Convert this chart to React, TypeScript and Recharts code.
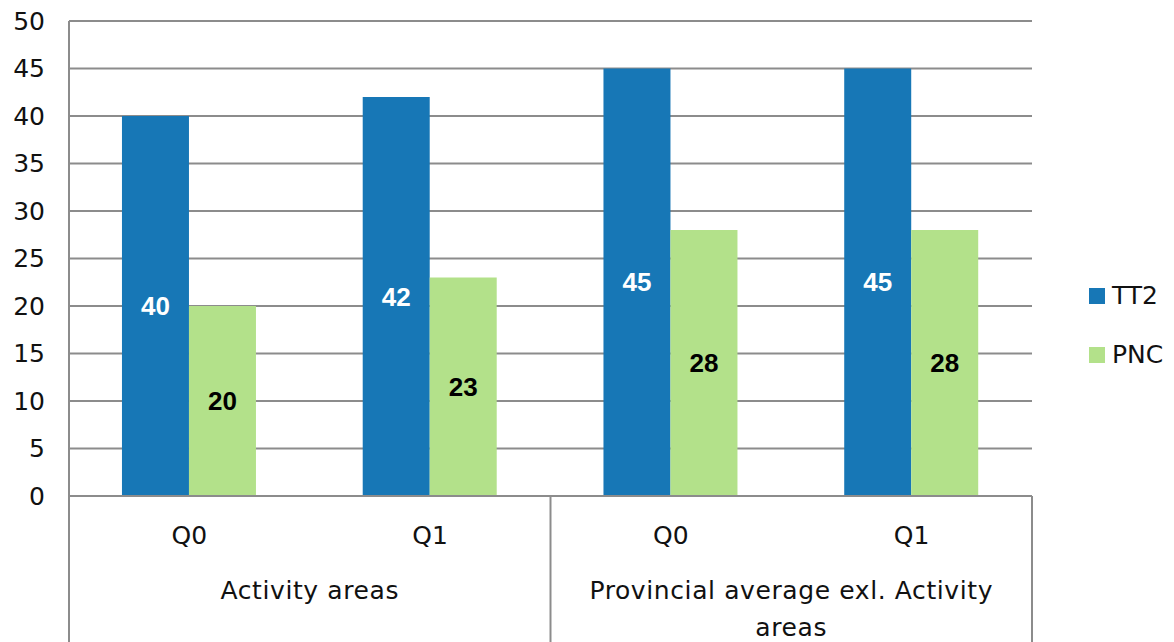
import React from "react";
import { BarChart, Bar, XAxis, YAxis, CartesianGrid, Legend, LabelList } from "recharts";

const categories = ["Q0", "Q1", "Q0", "Q1"];
const groups = [
  "Activity areas",
  "Activity areas",
  "Provincial average exl. Activity areas",
  "Provincial average exl. Activity areas",
];
const seriesNames = ["TT2", "PNC"];
const tt2Values = [40, 42, 45, 45];
const pncValues = [20, 23, 28, 28];
const yTicks = [0, 5, 10, 15, 20, 25, 30, 35, 40, 45, 50];

const data = categories.map((q, i) => ({
  q,
  group: groups[i],
  TT2: tt2Values[i],
  PNC: pncValues[i],
}));

const W = 1174;
const H = 642;
const LEFT = 69;
const RIGHT = 1032;
const BOTTOM = 496;
const GRID = "#8c8c8c";
const FONT = "'DejaVu Sans', sans-serif";

// naive word wrap for the group labels
function wrap(text: string, max: number) {
  const lines: string[] = [];
  let cur = "";
  text.split(" ").forEach((w) => {
    const next = cur ? cur + " " + w : w;
    if (next.length > max && cur) {
      lines.push(cur);
      cur = w;
    } else cur = next;
  });
  if (cur) lines.push(cur);
  return lines;
}

const QTick = (props: any) => {
  const { x, payload } = props;
  return (
    <text x={x} y={BOTTOM + 48} textAnchor="middle" fontSize={25} fontFamily={FONT} fill="#111">
      {payload.value}
    </text>
  );
};

const GroupTick = (props: any) => {
  const { x, payload, index } = props;
  const half = (RIGHT - LEFT) / 4;
  const lines = wrap(payload.value, 32);
  return (
    <g>
      {index === 0 && <line x1={x - half} x2={x - half} y1={BOTTOM} y2={H} stroke={GRID} strokeWidth={2} />}
      <line x1={x + half} x2={x + half} y1={BOTTOM} y2={H} stroke={GRID} strokeWidth={2} />
      <text textAnchor="middle" fontSize={25} fontFamily={FONT} fill="#111" letterSpacing={0.6}>
        {lines.map((l, i) => (
          <tspan key={i} x={x} y={BOTTOM + 103 + i * 37}>
            {l}
          </tspan>
        ))}
      </text>
    </g>
  );
};

const LegendContent = (props: any) => {
  const items = [...(props.payload || [])].sort(
    (a: any, b: any) => seriesNames.indexOf(a.value) - seriesNames.indexOf(b.value)
  );
  return (
    <div>
      {items.map((it: any) => (
        <div key={it.value} style={{ display: "flex", alignItems: "center", height: 59 }}>
          <span style={{ width: 16, height: 16, background: it.color, display: "inline-block", marginRight: 7 }} />
          <span style={{ fontFamily: FONT, fontSize: 25, color: "#111" }}>{it.value}</span>
        </div>
      ))}
    </div>
  );
};

export default function App() {
  return (
    <div style={{ position: "absolute", left: 0, top: 0, width: W, height: H, background: "#fff" }}>
      <BarChart
        width={W}
        height={H}
        data={data}
        margin={{ top: 21, right: W - RIGHT, left: 0, bottom: 0 }}
        barCategoryGap="22%"
        barGap={0}
      >
        <CartesianGrid vertical={false} stroke={GRID} strokeWidth={2} />
        <XAxis
          dataKey="q"
          xAxisId={0}
          height={60}
          tickLine={false}
          axisLine={{ stroke: GRID, strokeWidth: 2 }}
          tick={<QTick />}
          interval={0}
        />
        <XAxis
          dataKey="group"
          xAxisId={1}
          height={86}
          allowDuplicatedCategory={false}
          tickLine={false}
          axisLine={false}
          tick={<GroupTick />}
          interval={0}
        />
        <YAxis
          width={LEFT}
          domain={[0, 50]}
          ticks={yTicks}
          interval={0}
          tickLine={false}
          tickSize={0}
          tickMargin={24}
          axisLine={{ stroke: GRID, strokeWidth: 2 }}
          tick={{ fontSize: 25, fontFamily: FONT, fill: "#111" }}
        />
        <Legend
          layout="vertical"
          align="center"
          verticalAlign="middle"
          content={<LegendContent />}
          wrapperStyle={{ position: "absolute", left: 1089, top: 266, width: 90 }}
        />
        <Bar dataKey="TT2" xAxisId={0} fill="#1777b6" isAnimationActive={false}>
          <LabelList
            dataKey="TT2"
            position="center"
            fill="#fff"
            fontSize={26}
            fontWeight="bold"
            fontFamily="'Liberation Sans', Arial, sans-serif"
          />
        </Bar>
        <Bar dataKey="PNC" xAxisId={0} fill="#b3e18a" isAnimationActive={false}>
          <LabelList
            dataKey="PNC"
            position="center"
            fill="#000"
            fontSize={26}
            fontWeight="bold"
            fontFamily="'Liberation Sans', Arial, sans-serif"
          />
        </Bar>
      </BarChart>
    </div>
  );
}
